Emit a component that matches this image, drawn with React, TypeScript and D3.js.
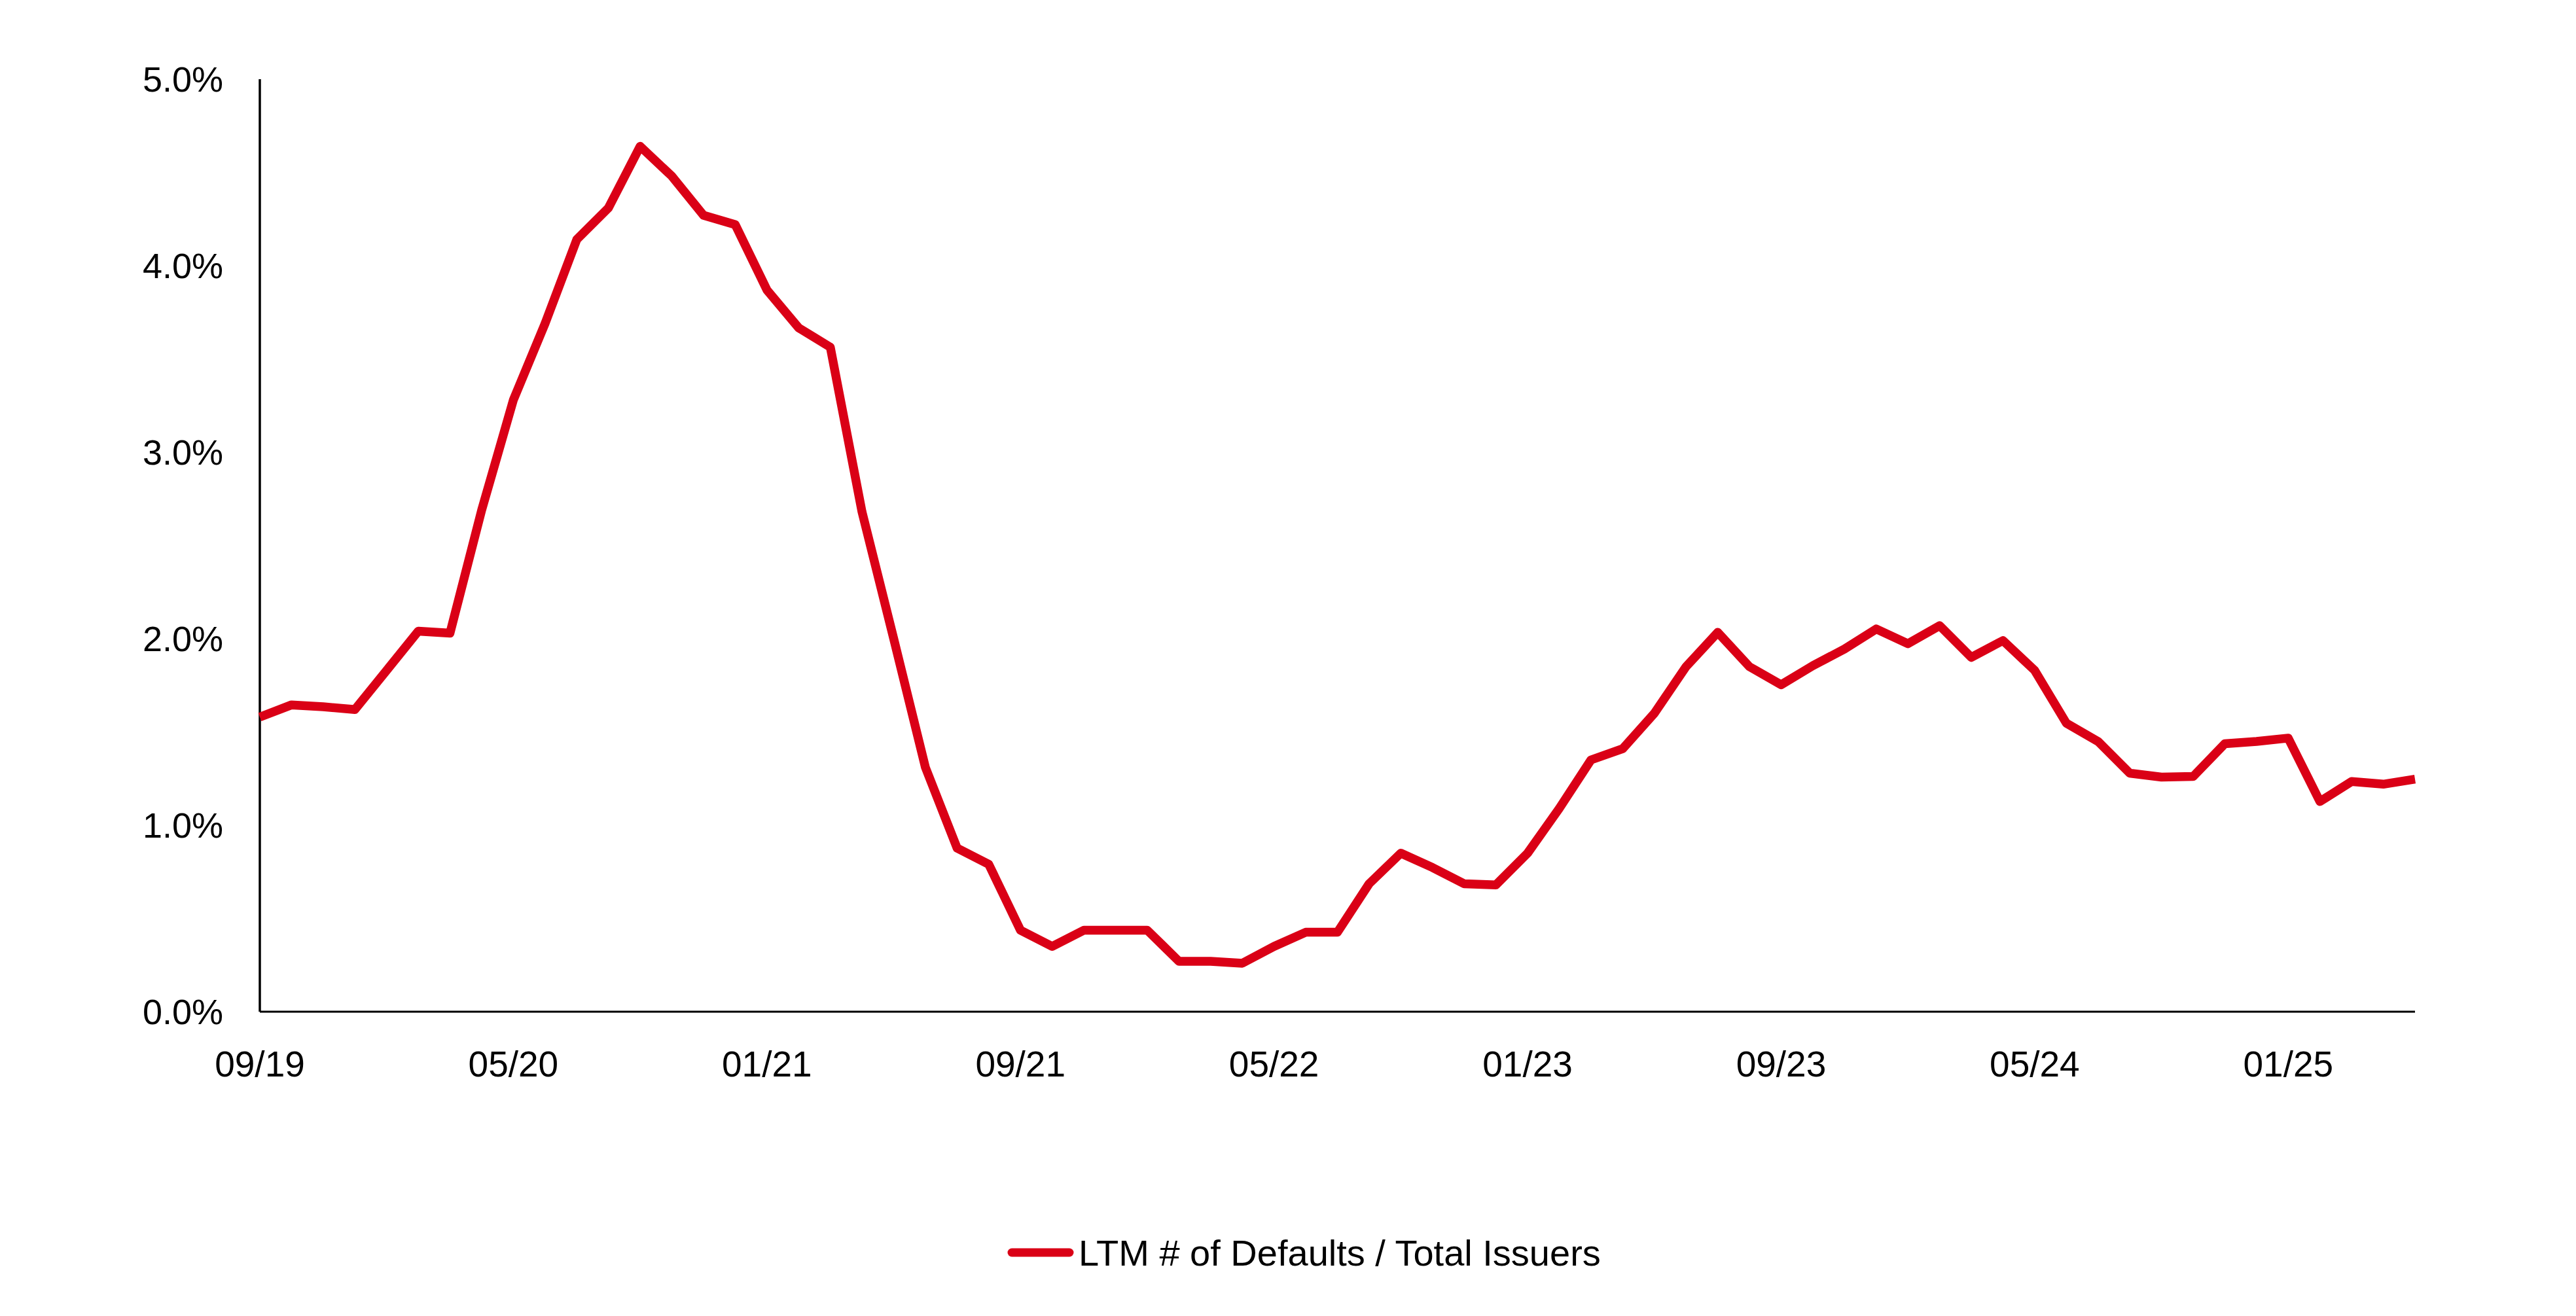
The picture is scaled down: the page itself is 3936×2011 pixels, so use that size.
import React from "react";
import * as d3 from "d3";

const defaultRate: number[] = [
  1.58, 1.645, 1.635, 1.62, 1.83, 2.04, 2.03, 2.69, 3.28, 3.69,
  4.14, 4.31, 4.64, 4.48, 4.27, 4.22, 3.87, 3.667, 3.563, 2.68,
  2.0, 1.31, 0.877, 0.79, 0.437, 0.35, 0.437, 0.437, 0.437, 0.27,
  0.27, 0.26, 0.35, 0.426, 0.426, 0.686, 0.85, 0.773, 0.686, 0.68,
  0.85, 1.09, 1.35, 1.41, 1.6, 1.85, 2.034, 1.85, 1.753, 1.855,
  1.945, 2.052, 1.973, 2.07, 1.9, 1.99, 1.83, 1.547, 1.449, 1.279,
  1.258, 1.261, 1.437, 1.449, 1.467, 1.127, 1.234, 1.22, 1.247,
];
const yTicks: number[] = [0, 1, 2, 3, 4, 5];
const xTickLabels: string[] = ["09/19", "05/20", "01/21", "09/21", "05/22", "01/23", "09/23", "05/24", "01/25"];
const xTickEvery = 8; // months between labels
const seriesName = "LTM # of Defaults / Total Issuers";

const W = 3936;
const H = 2011;
const FONT = "'Liberation Sans', Arial, Helvetica, sans-serif";
const RED = "#da0016";

export default function App() {
  const x = d3
    .scaleLinear()
    .domain([0, defaultRate.length - 1])
    .range([397, 3690]);
  const y = d3.scaleLinear().domain([0, 5]).range([1546, 121]);

  const line = d3
    .line<number>()
    .x((_, i) => x(i))
    .y((d) => y(d))
    .curve(d3.curveLinear);

  const [x0, x1] = x.range();

  return (
    <svg
      width={W}
      height={H}
      style={{ position: "absolute", left: 0, top: 0, background: "#fff" }}
      fontFamily={FONT}
    >
      <rect x={0} y={0} width={W} height={H} fill="#fff" />
      {yTicks.map((t) => (
        <text
          key={t}
          x={341}
          y={y(t)}
          textAnchor="end"
          dominantBaseline="central"
          fontSize={54}
          fill="#000"
        >
          {d3.format(".1f")(t) + "%"}
        </text>
      ))}
      {xTickLabels.map((lab, i) => (
        <text
          key={lab}
          x={x(i * xTickEvery)}
          y={1626}
          textAnchor="middle"
          dominantBaseline="central"
          fontSize={55}
          fill="#000"
        >
          {lab}
        </text>
      ))}
      <line x1={x0} x2={x0} y1={y(5)} y2={y(0)} stroke="#000" strokeWidth={3.5} />
      <line x1={x0} x2={x1} y1={y(0)} y2={y(0)} stroke="#000" strokeWidth={3} />
      <path
        d={line(defaultRate) || ""}
        fill="none"
        stroke={RED}
        strokeWidth={13.5}
        strokeLinejoin="round"
        strokeLinecap="butt"
      />
      <line x1={1546} x2={1634} y1={1914} y2={1914} stroke={RED} strokeWidth={13} strokeLinecap="round" />
      <text x={1648} y={1914} dominantBaseline="central" fontSize={56} fill="#000">
        {seriesName}
      </text>
    </svg>
  );
}
